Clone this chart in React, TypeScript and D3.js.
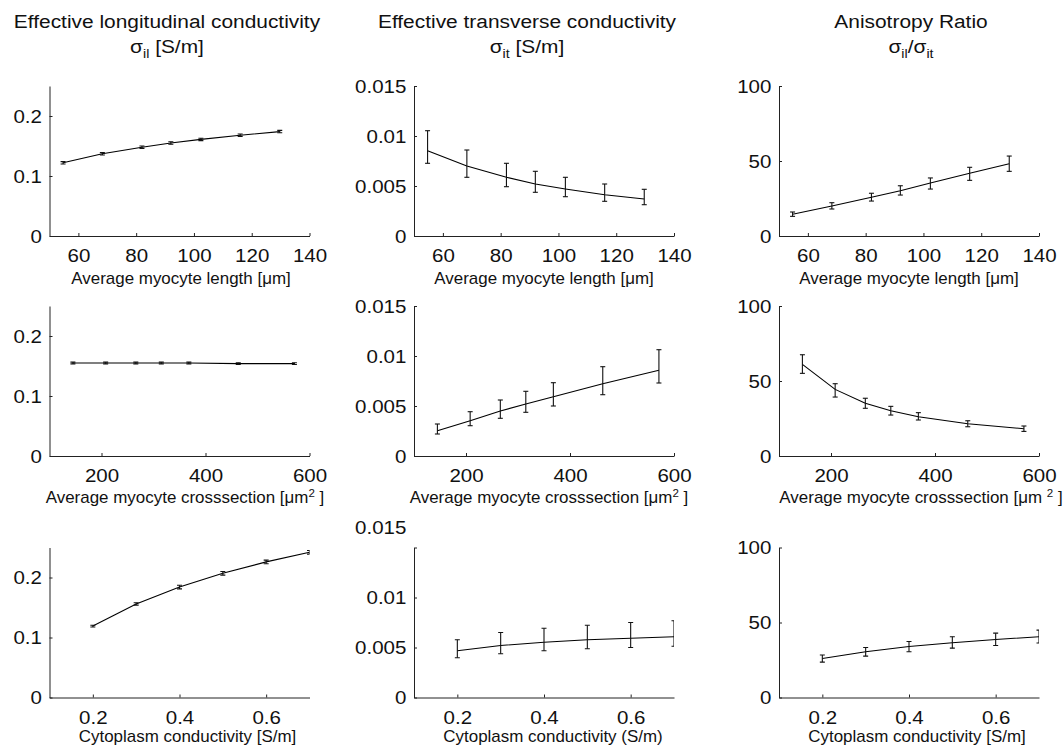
import React, { useRef, useEffect } from "react";
import * as d3 from "d3";

// x values of the three parameter sweeps
const lengthX = [54.7, 68.3, 82, 92, 102.4, 116, 129.7];
const crossX = [145, 208, 266, 315, 368, 463, 571];
const cytoX = [0.2, 0.3, 0.4, 0.5, 0.6, 0.7];

// longitudinal conductivity
const longLen = [0.122, 0.137, 0.148, 0.155, 0.161, 0.168, 0.174];
const longLenLo = [0.12, 0.135, 0.146, 0.153, 0.159, 0.166, 0.172];
const longLenHi = [0.124, 0.139, 0.15, 0.157, 0.163, 0.17, 0.176];
const longCross = [0.155, 0.155, 0.155, 0.155, 0.155, 0.154, 0.154];
const longCrossLo = [0.1535, 0.1535, 0.1535, 0.1535, 0.1535, 0.1525, 0.1525];
const longCrossHi = [0.1565, 0.1565, 0.1565, 0.1565, 0.1565, 0.1555, 0.1555];
const longCyto = [0.119, 0.156, 0.184, 0.207, 0.226, 0.242];
const longCytoLo = [0.1175, 0.154, 0.181, 0.204, 0.223, 0.239];
const longCytoHi = [0.1205, 0.158, 0.187, 0.21, 0.229, 0.245];

// transverse conductivity
const transLen = [0.00853, 0.007, 0.00587, 0.0052, 0.0047, 0.00413, 0.0037];
const transLenLo = [0.00727, 0.00587, 0.00493, 0.00437, 0.00393, 0.00347, 0.00313];
const transLenHi = [0.01053, 0.0086, 0.00727, 0.00647, 0.00587, 0.0052, 0.00467];
const transCross = [0.00253, 0.00353, 0.0045, 0.0052, 0.00593, 0.00723, 0.00857];
const transCrossLo = [0.0022, 0.00303, 0.00377, 0.00437, 0.005, 0.00613, 0.0073];
const transCrossHi = [0.0032, 0.00443, 0.0056, 0.00647, 0.00733, 0.00893, 0.01063];
const transCyto = [0.00467, 0.0052, 0.00553, 0.00577, 0.00593, 0.00607];
const transCytoLo = [0.00397, 0.00437, 0.00467, 0.00487, 0.005, 0.00513];
const transCytoHi = [0.00577, 0.0065, 0.00693, 0.00723, 0.0075, 0.00767];

// anisotropy ratio
const anisoLen = [14.5, 20, 25.8, 30.2, 35.3, 41.8, 48.2];
const anisoLenLo = [13.1, 18, 23.3, 27.3, 31.3, 37.1, 43.1];
const anisoLenHi = [16, 22.2, 28.5, 33.5, 38.7, 45.8, 53.3];
const anisoCross = [61.1, 44.4, 35.1, 30.2, 26.2, 21.5, 18.2];
const anisoCrossLo = [55.1, 39.3, 31.8, 27.3, 24, 19.5, 16.4];
const anisoCrossHi = [67.5, 48.2, 38.5, 33.1, 28.9, 23.5, 20];
const anisoCyto = [26, 30.5, 34, 36.5, 38.7, 40.5];
const anisoCytoLo = [23.6, 27.6, 30.5, 32.9, 34.7, 36.3];
const anisoCytoHi = [28.3, 33.3, 37.3, 40.5, 42.9, 44.9];

// ticks
const lengthTicks = [60, 80, 100, 120, 140];
const crossTicks = [200, 400, 600];
const cytoTicks = [0.2, 0.4, 0.6];
const longTicks = [0, 0.1, 0.2];
const transTicks = [0, 0.005, 0.01, 0.015];
const anisoTicks = [0, 50, 100];

const FONT = "'Liberation Sans', Arial, Helvetica, sans-serif";
const W = 1063;
const H = 747;
const colLeft = [49.5, 414, 779];
const rowTop = [86, 306, 547.5];
const plotW = 260;
const plotH = 150;
const titleX = [167, 527, 911];
const labelDy = [48, 47, 44];
// per-panel horizontal nudge of the x-axis label, row by row
const labelDx = [1.5, 0, 0, 5.5, 5, 12, 8, 9, 8];

const um2 = (extra) => [
    { t: "Average myocyte crosssection [\u03bcm" + extra },
    { t: "2", sup: true },
    { t: " ]" },
];

const rows = [
    { x: lengthX, xDomain: [50, 140], xTicks: lengthTicks },
    { x: crossX, xDomain: [100, 600], xTicks: crossTicks },
    { x: cytoX, xDomain: [0.1, 0.7], xTicks: cytoTicks },
];

const cols = [
    { yDomain: [0, 0.25], yTicks: longTicks },
    { yDomain: [0, 0.015], yTicks: transTicks },
    { yDomain: [0, 100], yTicks: anisoTicks },
];

const panels = [
    { r: 0, c: 0, y: longLen, lo: longLenLo, hi: longLenHi, label: [{ t: "Average myocyte length  [\u03bcm]" }] },
    { r: 0, c: 1, y: transLen, lo: transLenLo, hi: transLenHi, label: [{ t: "Average myocyte length [\u03bcm]" }] },
    { r: 0, c: 2, y: anisoLen, lo: anisoLenLo, hi: anisoLenHi, label: [{ t: "Average myocyte length [\u03bcm]" }] },
    { r: 1, c: 0, y: longCross, lo: longCrossLo, hi: longCrossHi, label: um2("") },
    { r: 1, c: 1, y: transCross, lo: transCrossLo, hi: transCrossHi, label: um2("") },
    { r: 1, c: 2, y: anisoCross, lo: anisoCrossLo, hi: anisoCrossHi, label: um2(" ") },
    { r: 2, c: 0, y: longCyto, lo: longCytoLo, hi: longCytoHi, label: [{ t: "Cytoplasm conductivity [S/m]" }] },
    { r: 2, c: 1, y: transCyto, lo: transCytoLo, hi: transCytoHi, label: [{ t: "Cytoplasm conductivity (S/m)" }], liftTop: true },
    { r: 2, c: 2, y: anisoCyto, lo: anisoCytoLo, hi: anisoCytoHi, label: [{ t: "Cytoplasm conductivity [S/m]" }] },
];

const titles = [
    [[{ t: "Effective longitudinal conductivity" }], [{ t: "\u03c3" }, { t: "il", sub: true }, { t: " [S/m]" }]],
    [[{ t: "Effective transverse conductivity" }], [{ t: "\u03c3" }, { t: "it", sub: true }, { t: " [S/m]" }]],
    [[{ t: "Anisotropy Ratio" }], [{ t: "\u03c3" }, { t: "il", sub: true }, { t: "/" }, { t: "\u03c3" }, { t: "it", sub: true }]],
];

function addText(g, x, y, parts, size, anchor = "middle", sx = 1.08) {
    const t = g
        .append("text")
        .attr("transform", `translate(${x},${y}) scale(${sx},1)`)
        .attr("text-anchor", anchor)
        .style("font-family", FONT)
        .style("font-size", size + "px")
        .attr("fill", "#111");
    let shift = 0;
    parts.forEach((p) => {
        const target = p.sub ? size * 0.28 : p.sup ? -size * 0.4 : 0;
        const s = t.append("tspan").text(p.t).attr("dy", target - shift);
        if (p.sub || p.sup) s.style("font-size", size * 0.68 + "px");
        shift = target;
    });
}

function fmt(v) {
    return v === 0 ? "0" : String(v);
}

const Chart = () => {
    const ref = useRef();

    useEffect(() => {
        const svg = d3.select(ref.current);
        svg.selectAll("*").remove();

        titles.forEach((lines, c) => {
            addText(svg, titleX[c], 28, lines[0], 19, "middle", 1.1);
            addText(svg, titleX[c], 53, lines[1], 19, "middle", 1.1);
        });

        panels.forEach((p, i) => {
            const row = rows[p.r];
            const col = cols[p.c];
            const g = svg
                .append("g")
                .attr("transform", `translate(${colLeft[p.c]},${rowTop[p.r]})`);

            const x = d3.scaleLinear().domain(row.xDomain).range([0, plotW]);
            const y = d3.scaleLinear().domain(col.yDomain).range([plotH, 0]);

            const xAxis = g
                .append("g")
                .attr("transform", `translate(0,${plotH})`)
                .call(
                    d3
                        .axisBottom(x)
                        .tickValues(row.xTicks)
                        .tickFormat(fmt)
                        .tickSizeInner(-3)
                        .tickSizeOuter(0)
                        .tickPadding(13)
                );
            const yAxis = g.append("g").call(
                d3
                    .axisLeft(y)
                    .tickValues(col.yTicks)
                    .tickFormat(fmt)
                    .tickSizeInner(-3)
                    .tickSizeOuter(0)
                    .tickPadding(7)
            );
            [xAxis, yAxis].forEach((a) => {
                a.select(".domain").attr("stroke", "#222").attr("stroke-width", 1);
                a.selectAll(".tick line").attr("stroke", "#222");
                a.selectAll("text")
                    .style("font-family", FONT)
                    .style("font-size", "19px")
                    .attr("fill", "#111")
                    .attr("transform", "scale(1.08,1)");
            });
            if (p.liftTop) {
                yAxis
                    .selectAll(".tick text")
                    .filter((d) => d === col.yDomain[1])
                    .attr("y", -20);
            }

            const clipId = "clip" + i;
            g.append("clipPath")
                .attr("id", clipId)
                .append("rect")
                .attr("x", 0)
                .attr("y", -10)
                .attr("width", plotW)
                .attr("height", plotH + 10);

            const plot = g.append("g").attr("clip-path", `url(#${clipId})`);
            const pts = row.x.map((xv, k) => ({ x: xv, y: p.y[k], lo: p.lo[k], hi: p.hi[k] }));

            plot.append("path")
                .datum(pts)
                .attr("fill", "none")
                .attr("stroke", "#000")
                .attr("stroke-width", 1.1)
                .attr("d", d3.line().x((d) => x(d.x)).y((d) => y(d.y)));

            const cap = 2.5;
            const bars = plot
                .selectAll("g.err")
                .data(pts)
                .enter()
                .append("g")
                .attr("class", "err")
                .attr("stroke", "#111")
                .attr("stroke-width", 1.1);
            bars.append("line")
                .attr("x1", (d) => x(d.x))
                .attr("x2", (d) => x(d.x))
                .attr("y1", (d) => y(d.lo))
                .attr("y2", (d) => y(d.hi));
            bars.append("line")
                .attr("x1", (d) => x(d.x) - cap)
                .attr("x2", (d) => x(d.x) + cap)
                .attr("y1", (d) => y(d.lo))
                .attr("y2", (d) => y(d.lo));
            bars.append("line")
                .attr("x1", (d) => x(d.x) - cap)
                .attr("x2", (d) => x(d.x) + cap)
                .attr("y1", (d) => y(d.hi))
                .attr("y2", (d) => y(d.hi));

            addText(g, plotW / 2 + labelDx[i], plotH + labelDy[p.r], p.label, 16, "middle", 1.06);
        });
    });

    return <svg ref={ref} width={W} height={H} style={{ position: "absolute", left: 0, top: 0, background: "#fff" }}></svg>;
};

export default function App() {
    return <Chart />;
}
